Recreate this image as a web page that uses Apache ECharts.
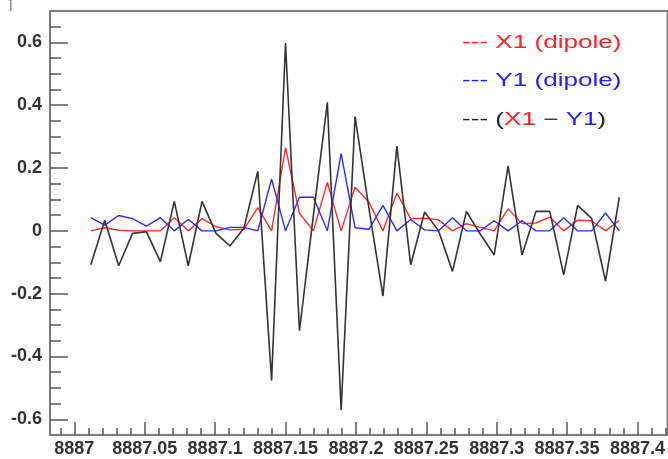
<!DOCTYPE html>
<html><head><meta charset="utf-8">
<script src="https://cdn.jsdelivr.net/npm/echarts@6/dist/echarts.min.js"></script>
<style>html,body{margin:0;padding:0;background:#fff;overflow:hidden}#c{width:668px;height:459px}</style>
</head><body><div id="c"></div>
<script>
// ---- data ----
const xValues = [8887.0117,8887.0216,8887.0315,8887.0413,8887.0512,8887.0611,8887.0710,8887.0809,8887.0907,8887.1006,
  8887.1105,8887.1204,8887.1303,8887.1401,8887.1500,8887.1599,8887.1698,8887.1797,8887.1895,8887.1994,
  8887.2093,8887.2192,8887.2291,8887.2389,8887.2488,8887.2587,8887.2686,8887.2785,8887.2883,8887.2982,
  8887.3081,8887.3180,8887.3279,8887.3377,8887.3476,8887.3575,8887.3674,8887.3773,8887.3871];
const x1Dipole = [0.000,0.010,0.002,0.000,0.000,0.000,0.042,0.000,0.039,0.013,
  0.003,0.005,0.074,0.000,0.265,0.056,0.000,0.154,0.000,0.139,
  0.091,0.000,0.120,0.039,0.040,0.035,0.000,0.023,0.011,0.000,
  0.070,0.023,0.025,0.044,0.000,0.034,0.032,0.000,0.033];
const y1Dipole = [0.042,0.018,0.049,0.039,0.015,0.042,0.000,0.037,0.000,0.000,
  0.011,0.011,0.000,0.165,0.000,0.107,0.107,0.000,0.246,0.010,
  0.005,0.081,0.000,0.036,0.003,0.000,0.042,0.000,0.000,0.032,
  0.000,0.032,0.000,0.000,0.042,0.000,0.000,0.057,0.000];
const diffX1Y1 = [-0.108,0.034,-0.111,-0.008,-0.003,-0.098,0.094,-0.111,0.094,-0.008,
  -0.048,0.008,0.190,-0.476,0.598,-0.318,0.050,0.409,-0.570,0.364,
  0.070,-0.208,0.270,-0.108,0.060,0.000,-0.129,0.062,-0.010,-0.077,
  0.207,-0.077,0.062,0.062,-0.140,0.081,0.040,-0.160,0.107];
const xMajorTicks = [8887,8887.05,8887.1,8887.15,8887.2,8887.25,8887.3,8887.35,8887.4];
const xMinorTicks = [8886.99,8887.01,8887.02,8887.03,8887.04,8887.06,8887.07,8887.08,8887.09,
  8887.11,8887.12,8887.13,8887.14,8887.16,8887.17,8887.18,8887.19,8887.21,8887.22,8887.23,8887.24,
  8887.26,8887.27,8887.28,8887.29,8887.31,8887.32,8887.33,8887.34,8887.36,8887.37,8887.38,8887.39,
  8887.41,8887.42];
const yMajorTicks = [-0.6,-0.4,-0.2,0,0.2,0.4,0.6];
const yMinorTicks = [-0.55,-0.5,-0.45,-0.35,-0.3,-0.25,-0.15,-0.1,-0.05,0.05,0.1,0.15,0.25,0.3,0.35,0.45,0.5,0.55,0.65];
const seriesNames = ['X1 (dipole)','Y1 (dipole)','(X1 − Y1)'];

// ---- chart ----
const X_MIN = 8886.9827, X_MAX = 8887.4214, Y_MIN = -0.65, Y_MAX = 0.70;
const labelFont = {fontFamily:'Liberation Sans', fontWeight:'bold', fontSize:18, color:'#333'};
const tickColor = '#5a5a5a';
const chart = echarts.init(document.getElementById('c'), null, {renderer:'canvas'});
const pairs = arr => xValues.map((x,i)=>[x, arr[i]]);
chart.setOption({
  animation:false,
  backgroundColor:'#fff',
  grid:{left:50, right:-12, top:11, bottom:24, show:true, borderColor:'#7a7a7a', borderWidth:2, backgroundColor:'transparent'},
  xAxis:[
    {type:'value', min:X_MIN, max:X_MAX, position:'bottom',
     axisLine:{show:false, onZero:false}, splitLine:{show:false},
     axisTick:{show:true, inside:true, length:13, customValues:xMajorTicks, lineStyle:{color:tickColor,width:1.5}},
     axisLabel:{show:true, customValues:xMajorTicks, margin:5, ...labelFont,
       formatter:v=>String(parseFloat(Number(v).toFixed(2)))}},
    {type:'value', min:X_MIN, max:X_MAX, position:'bottom',
     axisLine:{show:false, onZero:false}, splitLine:{show:false}, axisLabel:{show:false},
     axisTick:{show:true, inside:true, length:7, customValues:xMinorTicks, lineStyle:{color:tickColor,width:1.5}}}
  ],
  yAxis:[
    {type:'value', min:Y_MIN, max:Y_MAX, position:'left',
     axisLine:{show:false, onZero:false}, splitLine:{show:false},
     axisTick:{show:true, inside:true, length:18, customValues:yMajorTicks, lineStyle:{color:tickColor,width:1.5}},
     axisLabel:{show:true, customValues:yMajorTicks, margin:8, ...labelFont,
       formatter:v=>String(parseFloat(Number(v).toFixed(1)))}},
    {type:'value', min:Y_MIN, max:Y_MAX, position:'left',
     axisLine:{show:false, onZero:false}, splitLine:{show:false}, axisLabel:{show:false},
     axisTick:{show:true, inside:true, length:11, customValues:yMinorTicks, lineStyle:{color:tickColor,width:1.5}}}
  ],
  series:[
    {name:seriesNames[0], type:'line', data:pairs(x1Dipole), showSymbol:false, symbol:'none',
     lineStyle:{color:'#ff2b2b', width:1.4}, itemStyle:{color:'#ff2b2b'}, xAxisIndex:0, yAxisIndex:0},
    {name:seriesNames[1], type:'line', data:pairs(y1Dipole), showSymbol:false, symbol:'none',
     lineStyle:{color:'#2b2bff', width:1.4}, itemStyle:{color:'#2b2bff'}, xAxisIndex:0, yAxisIndex:0},
    {name:seriesNames[2], type:'line', data:pairs(diffX1Y1), showSymbol:false, symbol:'none',
     lineStyle:{color:'#333333', width:1.6}, itemStyle:{color:'#333333'}, xAxisIndex:0, yAxisIndex:0}
  ],
  graphic:[
    {type:'text', x:8, y:-1, style:{text:']', fontSize:13, fontFamily:'Liberation Serif', fill:'#555'}},
    {type:'text', x:462, y:43, scaleX:1.45, style:{text:'--- ' + seriesNames[0], fontSize:18, fontFamily:'Liberation Sans', fill:'#ff2020', verticalAlign:'middle'}},
    {type:'text', x:462, y:81, scaleX:1.45, style:{text:'--- ' + seriesNames[1], fontSize:18, fontFamily:'Liberation Sans', fill:'#2020ff', verticalAlign:'middle'}},
    {type:'text', x:462, y:120, scaleX:1.45, style:{
      text:'{k|--- (}{r|X1}{k| − }{b|Y1}{k|)}', fontSize:18, fontFamily:'Liberation Sans', verticalAlign:'middle',
      rich:{k:{fill:'#222', fontSize:18, fontFamily:'Liberation Sans'}, r:{fill:'#ff2020', fontSize:18, fontFamily:'Liberation Sans'}, b:{fill:'#2020ff', fontSize:18, fontFamily:'Liberation Sans'}}}}
  ]
});
</script></body></html>
